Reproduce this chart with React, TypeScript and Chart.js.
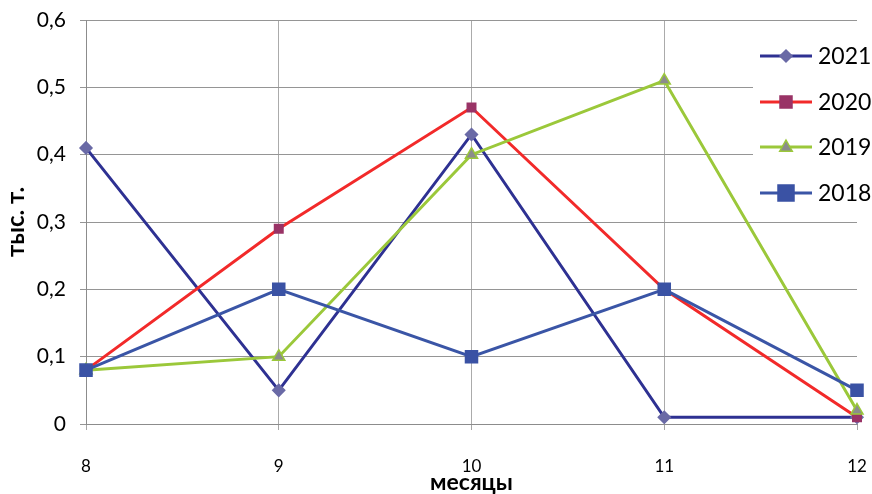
import React, { useEffect, useRef } from "react";
import { Chart, registerables } from "chart.js";

Chart.register(...registerables);

const months = ["8", "9", "10", "11", "12"];
const seriesNames = ["2021", "2020", "2019", "2018"];
const values2021 = [0.41, 0.05, 0.43, 0.01, 0.01];
const values2020 = [0.08, 0.29, 0.47, 0.2, 0.01];
const values2019 = [0.08, 0.1, 0.4, 0.51, 0.02];
const values2018 = [0.08, 0.2, 0.1, 0.2, 0.05];
const yTitle = "тыс. т.";
const xTitle = "месяцы";

const FONT = "Lato, 'Open Sans', sans-serif";

type Style = {
  line: string;
  fill: string;
  border: string;
  point: string;
  radius: number;
};

const styles: Style[] = [
  { line: "#2E3192", fill: "#6A6AA6", border: "#6A6AA6", point: "rectRot", radius: 6 },
  { line: "#F22A2A", fill: "#993366", border: "#993366", point: "rect", radius: 6 },
  { line: "#9BC83A", fill: "#8C8C8C", border: "#9BC83A", point: "triangle", radius: 7 },
  { line: "#3A55A6", fill: "#3A52A4", border: "#3A52A4", point: "rect", radius: 8.5 },
];

const seriesValues = [values2021, values2020, values2019, values2018];

// Legend drawn on a white box over the right part of the plot
const boxLegend = {
  id: "boxLegend",
  afterDatasetsDraw(chart: any) {
    const ctx = chart.ctx as CanvasRenderingContext2D;
    const x0 = 753;
    const y0 = 30;
    ctx.save();
    ctx.fillStyle = "#FFFFFF";
    ctx.fillRect(x0, y0, 872 - x0, 184);
    const rows = [56, 102, 147, 193];
    seriesNames.forEach((name, i) => {
      const st = styles[i];
      const y = rows[i];
      ctx.strokeStyle = st.line;
      ctx.lineWidth = 3;
      ctx.beginPath();
      ctx.moveTo(760, y);
      ctx.lineTo(812, y);
      ctx.stroke();
      const r = i === 3 ? 8 : st.radius;
      ctx.fillStyle = st.fill;
      ctx.strokeStyle = st.border;
      ctx.lineWidth = 1.5;
      ctx.beginPath();
      if (st.point === "rectRot") {
        ctx.moveTo(786, y - r);
        ctx.lineTo(786 + r, y);
        ctx.lineTo(786, y + r);
        ctx.lineTo(786 - r, y);
        ctx.closePath();
      } else if (st.point === "triangle") {
        ctx.moveTo(786, y - r);
        ctx.lineTo(786 + r * 0.9, y + r * 0.6);
        ctx.lineTo(786 - r * 0.9, y + r * 0.6);
        ctx.closePath();
      } else {
        ctx.rect(786 - r, y - r, 2 * r, 2 * r);
      }
      ctx.fill();
      ctx.stroke();
      ctx.fillStyle = "#000000";
      ctx.font = `23px ${FONT}`;
      ctx.textAlign = "left";
      ctx.textBaseline = "middle";
      ctx.fillText(name, 818, y + 1);
    });
    ctx.restore();
  },
};

export default function App() {
  const ref = useRef<HTMLCanvasElement | null>(null);

  useEffect(() => {
    document.body.style.margin = "0";
    if (!ref.current) return;
    const chart = new Chart(ref.current, {
      type: "line",
      data: {
        labels: months,
        datasets: seriesNames.map((name, i) => ({
          label: name,
          data: seriesValues[i],
          borderColor: styles[i].line,
          borderWidth: 3,
          backgroundColor: styles[i].fill,
          pointBackgroundColor: styles[i].fill,
          pointBorderColor: styles[i].border,
          pointBorderWidth: 1.5,
          pointStyle: styles[i].point as any,
          pointRadius: styles[i].radius,
          tension: 0,
          order: 4 - i,
        })),
      },
      options: {
        animation: false,
        responsive: false,
        maintainAspectRatio: false,
        layout: { autoPadding: false, padding: { top: 20, right: 15, left: 0, bottom: 0 } },
        plugins: {
          legend: { display: false },
          title: { display: false },
          tooltip: { enabled: false },
        },
        scales: {
          x: {
            offset: false,
            grid: {
              color: (c: any) => (c.index === 4 ? "rgba(0,0,0,0)" : "#ABABAB"),
              tickColor: "#A6A6A6",
              tickLength: 6,
              lineWidth: 1,
            },
            border: { color: "#8C8C8C" },
            ticks: {
              color: "#000",
              font: { family: FONT, size: 17 },
              padding: 26,
              maxRotation: 0,
            },
            title: {
              display: true,
              text: xTitle,
              color: "#000",
              font: { family: FONT, size: 23, weight: "bold" },
              padding: { top: 0, bottom: -2 },
            },
            afterFit: (s: any) => {
              s.height = 70;
              s.paddingLeft = 0;
              s.paddingRight = 0;
            },
          },
          y: {
            min: 0,
            max: 0.6,
            grid: {
              color: "#959595",
              tickColor: "#959595",
              tickLength: 6,
              lineWidth: 1,
            },
            border: { color: "#8C8C8C" },
            ticks: {
              stepSize: 0.1,
              color: "#000",
              font: { family: FONT, size: 21 },
              padding: 14,
              callback: (v: any) => Number(v).toFixed(1).replace(".", ",").replace(/^0,0$/, "0"),
            },
            title: {
              display: true,
              text: yTitle,
              color: "#000",
              font: { family: FONT, size: 24, weight: "bold" },
              padding: { top: 2, bottom: 0 },
            },
            afterFit: (s: any) => {
              s.width = 86;
              s.paddingTop = 0;
              s.paddingBottom = 0;
            },
          },
        },
      },
      plugins: [boxLegend],
    });
    return () => chart.destroy();
  }, []);

  return (
    <div style={{ position: "absolute", left: 0, top: 0, width: 872, height: 494, background: "#fff" }}>
      <canvas ref={ref} width={872} height={494} />
    </div>
  );
}
